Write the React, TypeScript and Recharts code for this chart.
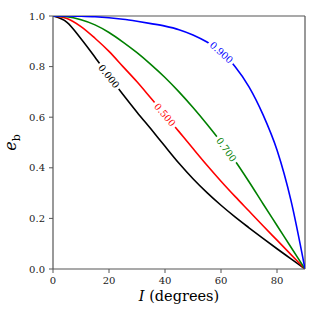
import React from 'react';
import { LineChart, Line, XAxis, YAxis, ReferenceLine, LabelList } from 'recharts';

// Inclination I (degrees)
const incl = [0, 5, 10, 15, 20, 25, 30, 35, 40, 45, 50, 55, 60, 65, 70, 75, 80, 85, 90];
// e_b curves for each contour level
const eb000 = [1.0, 0.975, 0.91, 0.837, 0.762, 0.69, 0.62, 0.553, 0.485, 0.418, 0.357, 0.302, 0.252, 0.206, 0.163, 0.121, 0.08, 0.04, 0.0];
const eb500 = [1.0, 0.99, 0.958, 0.912, 0.86, 0.8, 0.74, 0.675, 0.61, 0.543, 0.476, 0.41, 0.347, 0.287, 0.229, 0.171, 0.114, 0.057, 0.0];
const eb700 = [1.0, 0.997, 0.985, 0.965, 0.935, 0.897, 0.855, 0.808, 0.757, 0.7, 0.638, 0.572, 0.502, 0.428, 0.345, 0.258, 0.172, 0.086, 0.0];
const eb900 = [1.0, 1.0, 0.999, 0.997, 0.993, 0.987, 0.979, 0.97, 0.96, 0.946, 0.925, 0.897, 0.86, 0.8, 0.72, 0.61, 0.47, 0.27, 0.0];

const levelLabels = ['0.000', '0.500', '0.700', '0.900'];
const xTicks = [0, 20, 40, 60, 80];
const yTicks = [0, 0.2, 0.4, 0.6, 0.8, 1.0];

const data = incl.map((I, i) => ({
  I,
  s0: eb000[i],
  s1: eb500[i],
  s2: eb700[i],
  s3: eb900[i],
}));

const FONT = '"DejaVu Serif", serif';

const seriesStyle = [
  { key: 's0', color: '#000000', labelIndex: 4, angle: 52, dx: 0, dy: 0 },
  { key: 's1', color: '#ff0000', labelIndex: 8, angle: 49, dx: 0, dy: 0 },
  { key: 's2', color: '#008000', labelIndex: 12, angle: 54, dx: 5.5, dy: 7.5 },
  { key: 's3', color: '#0000ff', labelIndex: 12, angle: 42, dx: 0.5, dy: 1 },
];

const makeLabel = (idx: number, text: string, color: string, angle: number, dx: number, dy: number) =>
  (props: any) => {
    if (props.index !== idx) return null;
    const x = Number(props.x) + dx;
    const y = Number(props.y) + dy;
    return (
      <g transform={`translate(${x},${y}) rotate(${angle})`}>
        <rect x={-16} y={-5} width={32} height={10} fill="#ffffff" />
        <text
          x={0}
          y={0}
          textAnchor="middle"
          dominantBaseline="central"
          style={{ fontFamily: FONT }}
          fontSize={9.5}
          fill={color}
        >
          {text}
        </text>
      </g>
    );
  };

const YLabel = (props: any) => {
  const vb = props.viewBox || {};
  const cx = 16;
  const cy = (vb.y || 0) + (vb.height || 0) / 2;
  return (
    <text
      transform={`translate(${cx},${cy}) rotate(-90)`}
      textAnchor="middle"
      style={{ fontFamily: FONT }}
      fontSize={16}
      fill="#000"
    >
      <tspan fontStyle="italic">e</tspan>
      <tspan fontSize={11} dy={4}>b</tspan>
    </text>
  );
};

const XLabel = (props: any) => {
  const vb = props.viewBox || {};
  const cx = (vb.x || 0) + (vb.width || 0) / 2;
  return (
    <text x={cx} y={301} textAnchor="middle" style={{ fontFamily: FONT }} fontSize={14.5} fill="#000">
      <tspan fontStyle="italic">I</tspan>
      <tspan> (degrees)</tspan>
    </text>
  );
};

const tickStyle = { fill: '#222', fontSize: 10, style: { fontFamily: FONT } } as any;

export default function App() {
  return (
    <div
      style={{
        position: 'absolute',
        left: 0,
        top: 0,
        width: 320,
        height: 320,
        background: '#fff',
        fontFamily: FONT,
      }}
    >
      <LineChart
        width={320}
        height={320}
        data={data}
        margin={{ top: 16, right: 15, bottom: 0, left: 0 }}
        style={{ fontFamily: FONT }}
      >
        <XAxis
          dataKey="I"
          type="number"
          domain={[0, 90]}
          ticks={xTicks}
          tickSize={4}
          tickMargin={4}
          height={51}
          axisLine={{ stroke: '#555', strokeWidth: 1.2 }}
          tickLine={{ stroke: '#555' }}
          tick={tickStyle}
          label={<XLabel />}
          allowDataOverflow
        />
        <YAxis
          type="number"
          domain={[0, 1]}
          ticks={yTicks}
          tickFormatter={(v: number) => v.toFixed(1)}
          tickSize={4}
          tickMargin={4}
          width={53}
          axisLine={{ stroke: '#555', strokeWidth: 1.2 }}
          tickLine={{ stroke: '#555' }}
          tick={tickStyle}
          label={<YLabel />}
          allowDataOverflow
        />
        <ReferenceLine y={1} stroke="#555" strokeWidth={1.2} />
        <ReferenceLine x={90} stroke="#555" strokeWidth={1.2} />
        {seriesStyle.map((s, i) => (
          <Line
            key={s.key}
            dataKey={s.key}
            type="monotone"
            stroke={s.color}
            strokeWidth={1.6}
            dot={false}
            isAnimationActive={false}
          >
            <LabelList
              dataKey={s.key}
              content={makeLabel(s.labelIndex, levelLabels[i], s.color, s.angle, s.dx, s.dy)}
            />
          </Line>
        ))}
      </LineChart>
    </div>
  );
}
